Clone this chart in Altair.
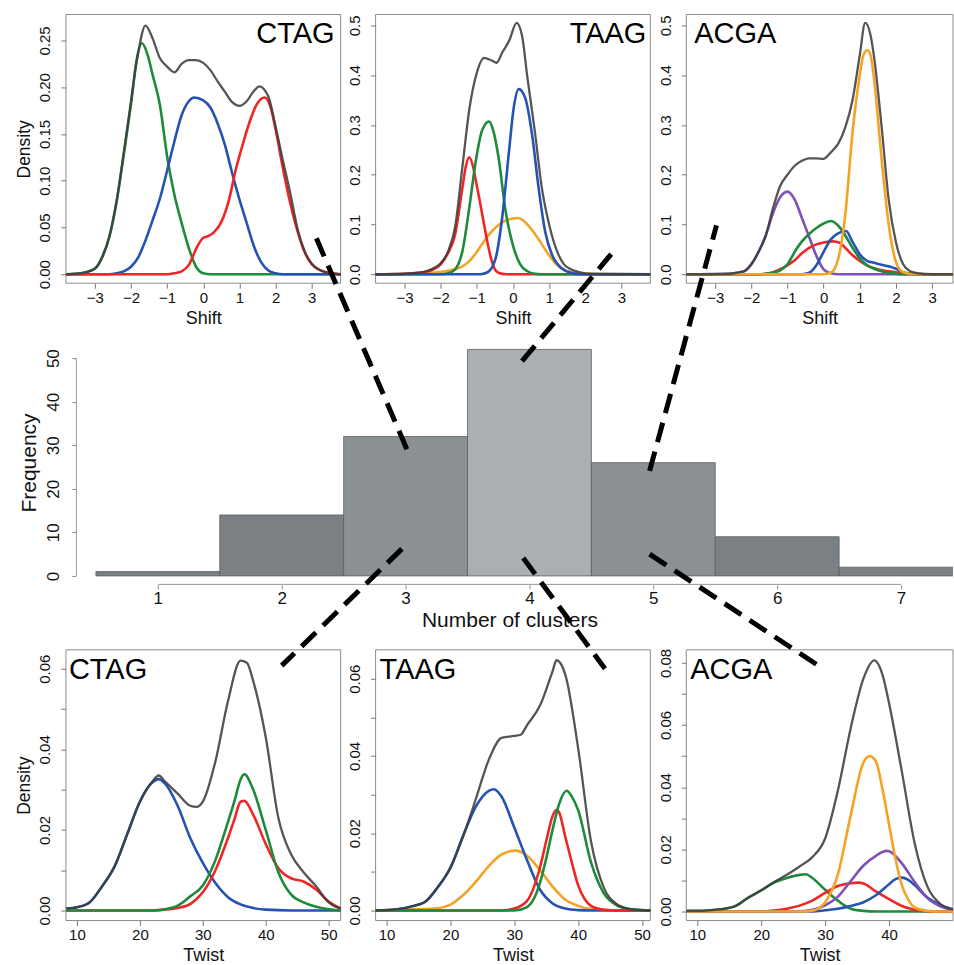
import altair as alt
import pandas as pd

FONT = "Liberation Sans"

# ---------------- values ----------------
# Top row: densities of "Shift" (points are (shift, density))
CTAG_SHIFT_ALL = [(-3.8,0),(-3.4,0.001),(-3.0,0.006),(-2.8,0.018),(-2.6,0.04),(-2.4,0.078),(-2.2,0.13),(-2.0,0.185),(-1.8,0.237),(-1.6,0.266),(-1.4,0.252),(-1.2,0.231),(-1.0,0.222),(-0.8,0.216),(-0.6,0.225),(-0.4,0.229),(-0.2,0.229),(0.0,0.226),(0.2,0.218),(0.4,0.206),(0.6,0.195),(0.8,0.184),(1.0,0.18),(1.2,0.185),(1.4,0.196),(1.55,0.201),(1.8,0.19),(2.0,0.158),(2.2,0.122),(2.4,0.088),(2.6,0.05),(2.8,0.025),(3.0,0.011),(3.4,0.002),(3.8,0)]
CTAG_SHIFT_GREEN = [(-3.8,0),(-3.4,0.001),(-3.0,0.006),(-2.8,0.018),(-2.6,0.04),(-2.4,0.077),(-2.2,0.128),(-2.0,0.182),(-1.85,0.228),(-1.7,0.247),(-1.55,0.236),(-1.4,0.213),(-1.2,0.181),(-1.0,0.126),(-0.8,0.085),(-0.6,0.055),(-0.4,0.028),(-0.2,0.008),(0.0,0.001),(0.2,0),(3.8,0)]
CTAG_SHIFT_BLUE = [(-3.8,0),(-2.6,0),(-2.4,0.001),(-2.2,0.003),(-2.0,0.008),(-1.8,0.018),(-1.6,0.036),(-1.4,0.058),(-1.2,0.081),(-1.0,0.111),(-0.8,0.142),(-0.6,0.17),(-0.4,0.185),(-0.25,0.189),(0.0,0.186),(0.2,0.178),(0.4,0.161),(0.6,0.138),(0.8,0.108),(1.0,0.08),(1.2,0.055),(1.4,0.03),(1.6,0.013),(1.8,0.004),(2.0,0.001),(2.2,0),(3.8,0)]
CTAG_SHIFT_RED = [(-3.8,0),(-1.0,0),(-0.8,0.001),(-0.6,0.003),(-0.4,0.01),(-0.2,0.027),(0.0,0.039),(0.15,0.041),(0.3,0.045),(0.5,0.056),(0.7,0.078),(0.9,0.112),(1.1,0.14),(1.3,0.165),(1.5,0.183),(1.7,0.189),(1.85,0.18),(2.0,0.155),(2.2,0.114),(2.4,0.077),(2.6,0.047),(2.8,0.024),(3.0,0.011),(3.4,0.002),(3.8,0)]

TAAG_SHIFT_ALL = [(-3.8,0),(-3.0,0.001),(-2.6,0.003),(-2.4,0.006),(-2.2,0.012),(-2.0,0.022),(-1.8,0.045),(-1.6,0.095),(-1.4,0.215),(-1.2,0.335),(-1.0,0.405),(-0.8,0.435),(-0.6,0.43),(-0.45,0.425),(-0.3,0.445),(-0.1,0.47),(0.1,0.505),(0.25,0.48),(0.4,0.395),(0.6,0.29),(0.8,0.173),(1.0,0.1),(1.2,0.05),(1.4,0.021),(1.6,0.01),(1.8,0.005),(2.2,0.001),(3.8,0)]
TAAG_SHIFT_RED = [(-3.8,0),(-3.0,0.001),(-2.6,0.003),(-2.4,0.005),(-2.2,0.01),(-2.0,0.02),(-1.8,0.042),(-1.6,0.08),(-1.4,0.173),(-1.3,0.218),(-1.21,0.235),(-1.1,0.215),(-1.0,0.178),(-0.9,0.14),(-0.8,0.1),(-0.7,0.062),(-0.6,0.03),(-0.5,0.01),(-0.4,0.003),(-0.2,0),(3.8,0)]
TAAG_SHIFT_GREEN = [(-3.8,0),(-2.0,0),(-1.8,0.002),(-1.6,0.01),(-1.4,0.046),(-1.2,0.138),(-1.03,0.227),(-0.85,0.29),(-0.66,0.307),(-0.55,0.29),(-0.4,0.235),(-0.2,0.125),(0.0,0.058),(0.2,0.02),(0.4,0.006),(0.6,0.001),(0.8,0),(3.8,0)]
TAAG_SHIFT_BLUE = [(-3.8,0),(-0.9,0),(-0.7,0.004),(-0.48,0.032),(-0.3,0.113),(-0.11,0.247),(0.02,0.334),(0.16,0.372),(0.34,0.354),(0.53,0.28),(0.71,0.173),(0.89,0.086),(1.08,0.039),(1.35,0.012),(1.6,0.003),(1.9,0),(3.8,0)]
TAAG_SHIFT_ORANGE = [(-3.8,0),(-2.6,0.001),(-2.2,0.003),(-2.0,0.005),(-1.8,0.007),(-1.6,0.01),(-1.4,0.016),(-1.2,0.027),(-1.0,0.045),(-0.8,0.066),(-0.6,0.085),(-0.4,0.099),(-0.2,0.108),(0.0,0.112),(0.12,0.113),(0.25,0.11),(0.4,0.1),(0.6,0.082),(0.8,0.06),(1.0,0.038),(1.2,0.02),(1.4,0.009),(1.6,0.004),(2.0,0.001),(2.4,0),(3.8,0)]

ACGA_SHIFT_ALL = [(-3.8,0),(-2.6,0.001),(-2.4,0.003),(-2.2,0.006),(-2.0,0.02),(-1.8,0.045),(-1.6,0.078),(-1.4,0.133),(-1.2,0.178),(-1.0,0.2),(-0.8,0.218),(-0.6,0.228),(-0.4,0.233),(-0.2,0.233),(0.0,0.232),(0.2,0.245),(0.4,0.262),(0.6,0.295),(0.8,0.35),(1.0,0.44),(1.15,0.505),(1.3,0.48),(1.4,0.435),(1.6,0.3),(1.8,0.15),(2.0,0.065),(2.2,0.02),(2.4,0.006),(2.6,0.002),(3.0,0),(3.8,0)]
ACGA_SHIFT_PURPLE = [(-3.8,0),(-2.6,0.001),(-2.4,0.003),(-2.2,0.006),(-2.0,0.02),(-1.8,0.045),(-1.6,0.078),(-1.4,0.123),(-1.2,0.155),(-1.0,0.166),(-0.8,0.15),(-0.6,0.113),(-0.4,0.075),(-0.2,0.037),(0.0,0.01),(0.2,0.002),(0.4,0),(3.8,0)]
ACGA_SHIFT_GREEN = [(-3.8,0),(-1.8,0),(-1.6,0.001),(-1.4,0.003),(-1.2,0.008),(-1.0,0.02),(-0.8,0.045),(-0.6,0.066),(-0.4,0.081),(-0.2,0.093),(0.0,0.102),(0.2,0.107),(0.4,0.098),(0.6,0.078),(0.8,0.053),(1.0,0.032),(1.2,0.018),(1.4,0.011),(1.6,0.006),(1.8,0.003),(2.0,0.001),(2.2,0),(3.8,0)]
ACGA_SHIFT_RED = [(-3.8,0),(-1.8,0),(-1.6,0.001),(-1.4,0.004),(-1.2,0.01),(-1.0,0.018),(-0.8,0.028),(-0.6,0.042),(-0.4,0.053),(-0.2,0.06),(0.0,0.064),(0.25,0.066),(0.45,0.063),(0.6,0.053),(0.8,0.038),(1.0,0.027),(1.2,0.018),(1.4,0.012),(1.6,0.008),(1.8,0.006),(2.0,0.004),(2.2,0.002),(2.4,0.001),(2.6,0),(3.8,0)]
ACGA_SHIFT_BLUE = [(-3.8,0),(-0.6,0),(-0.4,0.003),(-0.2,0.018),(0.0,0.045),(0.2,0.07),(0.4,0.082),(0.62,0.087),(0.8,0.065),(1.0,0.04),(1.2,0.027),(1.4,0.023),(1.6,0.019),(1.8,0.016),(2.0,0.011),(2.2,0.004),(2.4,0.001),(2.6,0),(3.8,0)]
ACGA_SHIFT_ORANGE = [(-3.8,0),(0.0,0),(0.2,0.003),(0.4,0.03),(0.6,0.12),(0.8,0.285),(1.0,0.4),(1.1,0.44),(1.21,0.45),(1.3,0.44),(1.4,0.39),(1.6,0.235),(1.8,0.1),(2.0,0.025),(2.2,0.004),(2.4,0.001),(2.6,0),(3.8,0)]

# Bottom row: densities of "Twist" (points are (twist, density))
CTAG_TWIST_ALL = [(8.3,0.0005),(10,0.0008),(12,0.002),(14,0.006),(16,0.011),(18,0.019),(20,0.027),(22,0.032),(23,0.0335),(24,0.032),(26,0.029),(28,0.026),(29,0.0257),(30,0.027),(32,0.037),(34,0.052),(36,0.062),(37,0.0615),(38,0.057),(40,0.043),(42,0.023),(44,0.014),(46,0.0095),(48,0.006),(50,0.002),(51.9,0.0005)]
CTAG_TWIST_BLUE = [(8.3,0.0005),(10,0.0008),(12,0.002),(14,0.006),(16,0.011),(18,0.019),(20,0.027),(22,0.0318),(23,0.0326),(24,0.0315),(26,0.026),(28,0.018),(30,0.0118),(32,0.0068),(34,0.0033),(36,0.0015),(38,0.0006),(40,0.0002),(44,0),(51.9,0)]
CTAG_TWIST_GREEN = [(8.3,0),(22,0),(24,0.0003),(26,0.0012),(28,0.0035),(30,0.0062),(32,0.0125),(34,0.022),(35,0.027),(36,0.0325),(36.6,0.0338),(38,0.030),(40,0.020),(42,0.0095),(44,0.004),(46,0.002),(48,0.0009),(50,0.0003),(51.9,0)]
CTAG_TWIST_RED = [(8.3,0),(22,0),(24,0.0002),(26,0.0006),(28,0.0016),(30,0.0045),(32,0.01),(34,0.018),(35,0.0225),(36,0.027),(36.6,0.0272),(38,0.0238),(40,0.0165),(42,0.0105),(44,0.008),(46,0.0072),(48,0.0052),(50,0.0022),(51.9,0.0005)]

TAAG_TWIST_ALL = [(8.3,0),(12,0.0004),(14,0.0011),(16,0.0022),(18,0.006),(20,0.0112),(22,0.0192),(24,0.029),(26,0.039),(28,0.0447),(30,0.0452),(31,0.0455),(32,0.048),(34,0.053),(36,0.062),(36.6,0.0648),(38,0.061),(40,0.042),(42,0.018),(44,0.006),(46,0.0017),(48,0.0004),(50,0.0001),(51.3,0)]
TAAG_TWIST_BLUE = [(8.3,0),(12,0.0004),(14,0.0011),(16,0.0022),(18,0.006),(20,0.011),(22,0.0195),(24,0.027),(26,0.031),(26.8,0.0314),(28,0.0295),(30,0.0215),(32,0.013),(34,0.0055),(36,0.0018),(38,0.0005),(40,0.0001),(42,0),(51.3,0)]
TAAG_TWIST_ORANGE = [(8.3,0),(14,0.0003),(18,0.0006),(20,0.0015),(22,0.004),(24,0.0075),(26,0.0115),(28,0.0145),(30.2,0.0155),(32,0.0142),(34,0.0105),(36,0.0062),(38,0.0028),(40,0.0012),(42,0.0004),(44,0.0002),(46,0),(51.3,0)]
TAAG_TWIST_RED = [(8.3,0),(28,0),(30,0.0005),(32,0.0025),(34,0.011),(35,0.018),(36,0.0245),(36.6,0.0261),(37,0.0255),(38,0.019),(39,0.0125),(40,0.0065),(41,0.003),(42,0.0012),(44,0.0002),(46,0),(51.3,0)]
TAAG_TWIST_GREEN = [(8.3,0),(30,0),(32,0.0009),(34,0.007),(35,0.0135),(36,0.021),(37,0.0275),(38.2,0.031),(39,0.0295),(40,0.026),(42,0.0125),(44,0.0045),(46,0.0014),(48,0.0004),(50,0.0001),(51.3,0)]

ACGA_TWIST_ALL = [(8.3,0.0002),(10,0.0002),(12,0.0004),(14,0.0008),(16,0.0018),(18,0.0045),(20,0.0068),(22,0.0095),(24,0.0118),(26,0.0145),(28,0.0175),(30,0.0235),(32,0.039),(34,0.059),(36,0.075),(37.7,0.0808),(39,0.076),(40,0.067),(42,0.045),(44,0.022),(46,0.008),(48,0.0025),(50,0.0006),(52,0)]
ACGA_TWIST_GREEN = [(8.3,0.0002),(10,0.0002),(12,0.0004),(14,0.0008),(16,0.0018),(18,0.0045),(20,0.0068),(22,0.0093),(24,0.0108),(26,0.0118),(27,0.012),(28,0.0108),(30,0.007),(32,0.0035),(34,0.0009),(36,0.0002),(38,0),(52,0)]
ACGA_TWIST_RED = [(8.3,0),(20,0),(22,0.0003),(24,0.0009),(26,0.0019),(28,0.0035),(30,0.006),(32,0.0082),(34,0.0091),(35.2,0.0093),(36,0.009),(38,0.0064),(40,0.004),(42,0.0018),(44,0.0006),(46,0.0001),(48,0),(52,0)]
ACGA_TWIST_ORANGE = [(8.3,0),(26,0),(28,0.0003),(30,0.003),(32,0.012),(34,0.031),(36,0.048),(37,0.05),(38,0.048),(39,0.039),(40,0.028),(41,0.017),(42,0.0085),(43,0.0038),(44,0.0013),(46,0.0002),(48,0),(52,0)]
ACGA_TWIST_PURPLE = [(8.3,0),(24,0),(26,0.0001),(28,0.0006),(30,0.002),(32,0.0048),(34,0.0098),(36,0.0148),(38,0.018),(39.6,0.0195),(40,0.0194),(42,0.0155),(44,0.0095),(46,0.0043),(48,0.0017),(50,0.0005),(52,0.0001)]
ACGA_TWIST_BLUE = [(8.3,0),(28,0),(30,0.0004),(32,0.0009),(34,0.0018),(36,0.003),(38,0.0053),(40,0.0088),(41,0.0104),(42,0.0109),(43,0.0102),(44,0.0085),(46,0.0045),(48,0.0021),(50,0.0007),(52,0.0002)]

# Middle: histogram of the number of clusters
CLUSTERS = [1, 2, 3, 4, 5, 6, 7]
FREQUENCY = [1, 14, 32, 52, 26, 9, 2]

# Dashed connectors, in histogram units (clusters, frequency): from -> to
LINK_FROM_X = [3.01, 3.94, 4.97, 2.97, 3.95, 4.97]
LINK_FROM_Y = [29.1, 49.3, 24.1, 6.2, 4.1, 5.0]
LINK_TO_X = [2.28, 4.66, 5.51, 2.00, 4.61, 6.37]
LINK_TO_Y = [77.5, 73.9, 80.5, -20.6, -21.3, -21.3]

# Tick labels
SHIFT_TICKS = [-3, -2, -1, 0, 1, 2, 3]
TWIST_TICKS = [10, 20, 30, 40, 50]
FREQ_TICKS = [0, 10, 20, 30, 40, 50]
CTAG_SHIFT_YTICKS = [0, 0.05, 0.10, 0.15, 0.20, 0.25]
HALF_YTICKS = [0, 0.1, 0.2, 0.3, 0.4, 0.5]
TWIST6_YTICKS = [0, 0.01, 0.02, 0.03, 0.04, 0.05, 0.06]
TWIST8_YTICKS = [0, 0.01, 0.02, 0.03, 0.04, 0.05, 0.06, 0.07, 0.08]

# ---------------- styling ----------------
GRAY = "#3e3e3e"
GREEN = "#1e8b3c"
BLUE = "#2553b3"
RED = "#f02626"
ORANGE = "#f4a424"
PURPLE = "#8050b4"
BAR_COLORS = ["#7a8083", "#7a8083", "#8b9193", "#aaafb1", "#8b9193", "#7a8083", "#7a8083"]
FRAME = "#8c8c8c"
TXT = "#111111"

W, H = 888, 907   # whole drawing area; panels are placed through scale ranges
COLS = [(0, 275), (310, 585), (621, 888)]
TOP_Y = (269, 0)
HIST_Y = (571, 326)
BOT_Y = (907, 636)


def panel(curves, name, xdom, ydom, xr, yr, xticks, yticks, xtitle, ytitle,
          yfmt, name_x, name_y, name_align, odd_hidden=False):
    xs = alt.Scale(domain=list(xdom), range=list(xr), nice=False, zero=False)
    ys = alt.Scale(domain=list(ydom), range=list(yr), nice=False, zero=False)
    xa = alt.Axis(orient="bottom", offset=yr[0] - H, values=xticks, domain=False, grid=False,
                  tickSize=5, tickColor="#777", labelFontSize=15, labelColor=TXT, labelPadding=2,
                  labelFlush=False, labelOverlap=False, title=xtitle, titleFontSize=18,
                  titleFontWeight="normal", titleColor=TXT, titlePadding=4)
    yargs = dict(orient="left", offset=-xr[0], values=yticks, domain=False, grid=False,
                 tickSize=5, tickColor="#777", labelFontSize=15, labelColor=TXT,
                 labelAngle=270, labelAlign="center", labelBaseline="bottom", labelPadding=8,
                 labelFlush=False, labelOverlap=False, format=yfmt, title=ytitle,
                 titleFontSize=17.5, titleFontWeight="normal", titleColor=TXT, titlePadding=4)
    if odd_hidden:
        yargs["labelExpr"] = "round(datum.value*100) % 2 == 0 ? format(datum.value, '.2f') : ''"
    ya = alt.Axis(**yargs)
    layers = []
    for pts, color, sw, op in curves:
        df = pd.DataFrame(pts, columns=["x", "y"])
        layers.append(
            alt.Chart(df).mark_line(color=color, strokeWidth=sw, opacity=op,
                                    interpolate="monotone", clip=True)
            .encode(x=alt.X("x:Q", scale=xs, axis=xa), y=alt.Y("y:Q", scale=ys, axis=ya))
        )
    frame_df = pd.DataFrame({"x": [xdom[0]], "x2": [xdom[1]], "y": [ydom[0]], "y2": [ydom[1]]})
    frame = alt.Chart(frame_df).mark_rect(filled=False, stroke=FRAME, strokeWidth=1).encode(
        x=alt.X("x:Q", scale=xs, axis=xa), x2="x2:Q",
        y=alt.Y("y:Q", scale=ys, axis=ya), y2="y2:Q")
    label = alt.Chart(pd.DataFrame({"t": [name]})).mark_text(
        font=FONT, fontSize=29, align=name_align, baseline="alphabetic", color="black"
    ).encode(text="t:N", x=alt.value(name_x), y=alt.value(name_y))
    return alt.layer(frame, *layers, label)


def comps(*pairs):
    out = [(p, c, 2.6, 1.0) for p, c in pairs[1:]]
    out.append((pairs[0][0], GRAY, 2.3, 0.88))
    return out


top1 = panel(comps((CTAG_SHIFT_ALL, None), (CTAG_SHIFT_GREEN, GREEN), (CTAG_SHIFT_BLUE, BLUE), (CTAG_SHIFT_RED, RED)),
             "CTAG", (-3.8, 3.8), (-0.0096, 0.2778), COLS[0], TOP_Y, SHIFT_TICKS, CTAG_SHIFT_YTICKS,
             "Shift", "Density", ".2f", 269, 29, "right")
top2 = panel(comps((TAAG_SHIFT_ALL, None), (TAAG_SHIFT_ORANGE, ORANGE), (TAAG_SHIFT_RED, RED), (TAAG_SHIFT_GREEN, GREEN), (TAAG_SHIFT_BLUE, BLUE)),
             "TAAG", (-3.8, 3.8), (-0.018, 0.522), COLS[1], TOP_Y, SHIFT_TICKS, HALF_YTICKS,
             "Shift", None, ".1f", 581, 29, "right")
top3 = panel(comps((ACGA_SHIFT_ALL, None), (ACGA_SHIFT_PURPLE, PURPLE), (ACGA_SHIFT_RED, RED), (ACGA_SHIFT_GREEN, GREEN), (ACGA_SHIFT_BLUE, BLUE), (ACGA_SHIFT_ORANGE, ORANGE)),
             "ACGA", (-3.8, 3.58), (-0.018, 0.522), COLS[2], TOP_Y, SHIFT_TICKS, HALF_YTICKS,
             "Shift", None, ".1f", 629, 29, "left")

bot1 = panel(comps((CTAG_TWIST_ALL, None), (CTAG_TWIST_BLUE, BLUE), (CTAG_TWIST_RED, RED), (CTAG_TWIST_GREEN, GREEN)),
             "CTAG", (8.25, 51.9), (-0.0025, 0.0647), COLS[0], BOT_Y, TWIST_TICKS, TWIST6_YTICKS,
             "Twist", "Density", ".2f", 3, 665, "left", True)
bot2 = panel(comps((TAAG_TWIST_ALL, None), (TAAG_TWIST_ORANGE, ORANGE), (TAAG_TWIST_BLUE, BLUE), (TAAG_TWIST_RED, RED), (TAAG_TWIST_GREEN, GREEN)),
             "TAAG", (8.28, 51.3), (-0.0026, 0.0675), COLS[1], BOT_Y, TWIST_TICKS, TWIST6_YTICKS,
             "Twist", None, ".2f", 314, 665, "left", True)
bot3 = panel(comps((ACGA_TWIST_ALL, None), (ACGA_TWIST_GREEN, GREEN), (ACGA_TWIST_RED, RED), (ACGA_TWIST_BLUE, BLUE), (ACGA_TWIST_PURPLE, PURPLE), (ACGA_TWIST_ORANGE, ORANGE)),
             "ACGA", (8.28, 50.0), (-0.0029, 0.0842), COLS[2], BOT_Y, TWIST_TICKS[:-1], TWIST8_YTICKS,
             "Twist", None, ".2f", 625, 665, "left", True)

# ---------------- histogram ----------------
hxs = alt.Scale(domain=[0.258, 0.258 + W / 124.0], range=[0, W], nice=False, zero=False)
hys = alt.Scale(domain=[-2.06, 54.13], range=list(HIST_Y), nice=False, zero=False)
hxa = alt.Axis(orient="bottom", offset=HIST_Y[0] - H, values=CLUSTERS, format="d", domain=False, grid=False,
               tickSize=4, tickColor="#888", labelFontSize=17, labelColor=TXT, labelPadding=2,
               labelFlush=False, labelOverlap=False, title="Number of clusters", titleFontSize=21,
               titleFontWeight="normal", titleColor=TXT, titlePadding=3)
hya = alt.Axis(orient="left", offset=-10, values=FREQ_TICKS, domain=False, grid=False,
               tickSize=4, tickColor="#888", labelFontSize=17, labelColor=TXT, labelAngle=270,
               labelAlign="center", labelBaseline="bottom", labelPadding=9, labelFlush=False,
               labelOverlap=False, title="Frequency", titleFontSize=21, titleFontWeight="normal",
               titleColor=TXT, titlePadding=5)

hist_df = pd.DataFrame({"cluster": CLUSTERS, "count": FREQUENCY})
hist_df["lo"] = hist_df["cluster"] - 0.5
hist_df["hi"] = hist_df["cluster"] + 0.5
hist_df["base"] = 0

bars = alt.Chart(hist_df).mark_bar(clip=True, stroke="#5a5f61", strokeWidth=0.8).encode(
    x=alt.X("lo:Q", scale=hxs, axis=hxa), x2="hi:Q",
    y=alt.Y("count:Q", scale=hys, axis=hya), y2="base:Q",
    color=alt.Color("cluster:O", scale=alt.Scale(domain=CLUSTERS, range=BAR_COLORS), legend=None),
)
xline = alt.Chart(pd.DataFrame({"a": [CLUSTERS[0]], "b": [CLUSTERS[-1]]})).mark_rule(
    color="#999", strokeWidth=1).encode(x=alt.X("a:Q", scale=hxs, axis=hxa), x2="b:Q", y=alt.value(HIST_Y[0] - 0.5))
yline = alt.Chart(pd.DataFrame({"a": [FREQ_TICKS[0]], "b": [FREQ_TICKS[-1]]})).mark_rule(
    color="#999", strokeWidth=1).encode(y=alt.Y("a:Q", scale=hys, axis=hya), y2="b:Q", x=alt.value(10.5))
links_df = pd.DataFrame({"x1": LINK_FROM_X, "y1": LINK_FROM_Y, "x2": LINK_TO_X, "y2": LINK_TO_Y})
links = alt.Chart(links_df).mark_rule(color="black", strokeWidth=5, strokeDash=[20, 10],
                                      strokeCap="butt", clip=False).encode(
    x=alt.X("x1:Q", scale=hxs, axis=hxa), y=alt.Y("y1:Q", scale=hys, axis=hya),
    x2="x2:Q", y2="y2:Q")
hist = alt.layer(bars, xline, yline, links)

chart = (
    alt.layer(top1, top2, top3, bot1, bot2, bot3, hist)
    .resolve_scale(x="independent", y="independent")
    .resolve_axis(x="independent", y="independent")
    .properties(width=W, height=H, padding={"left": 15, "top": 13, "right": 0, "bottom": 0},
                background="white")
    .configure(font=FONT)
    .configure_view(strokeWidth=0)
)

chart.save("out.html", embed_options={"renderer": "svg", "actions": False})
